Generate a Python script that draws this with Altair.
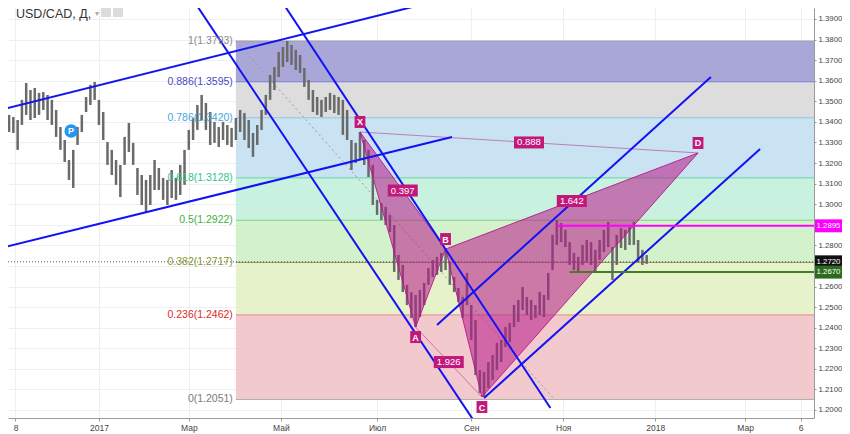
import altair as alt
import pandas as pd

FONT = "Liberation Sans"

# ---------------- price bars (each bar = 2 trading days; index 0 = 2 Jan 2017)
BAR_START = -42
BAR_STEP = 2
highs = [
    1.3434, 1.3424, 1.3409, 1.3507, 1.3589, 1.3555, 1.3565, 1.3541, 1.3545, 1.3531,
    1.3507, 1.3458, 1.3375, 1.3312, 1.3215, 1.3264, 1.3375, 1.3434, 1.3521, 1.3580,
    1.3594, 1.3507, 1.3448, 1.3302, 1.3264, 1.3215, 1.3191, 1.3327, 1.3395, 1.3298,
    1.3176, 1.3142, 1.3118, 1.3142, 1.3215, 1.3176, 1.3128, 1.3118, 1.3166, 1.3128,
    1.3191, 1.3264, 1.3361, 1.3419, 1.3482, 1.3531, 1.3492, 1.3448, 1.3400, 1.3375,
    1.3400, 1.3385, 1.3371, 1.3419, 1.3458, 1.3443, 1.3409, 1.3346, 1.3385, 1.3458,
    1.3531, 1.3628, 1.3667, 1.3740, 1.3764, 1.3793, 1.3774, 1.3750, 1.3725, 1.3662,
    1.3604, 1.3555, 1.3521, 1.3507, 1.3521, 1.3541, 1.3531, 1.3521, 1.3507, 1.3458,
    1.3312, 1.3298, 1.3351, 1.3312, 1.3264, 1.3191, 1.3021, 1.3006, 1.2987, 1.2948,
    1.2899, 1.2753, 1.2705, 1.2608, 1.2573, 1.2559, 1.2583, 1.2617, 1.2690, 1.2729,
    1.2744, 1.2763, 1.2782, 1.2719, 1.2646, 1.2593, 1.2549, 1.2666, 1.2510, 1.2437,
    1.2194, 1.2185, 1.2233, 1.2267, 1.2326, 1.2340, 1.2403, 1.2423, 1.2510, 1.2535,
    1.2598, 1.2549, 1.2535, 1.2510, 1.2573, 1.2559, 1.2666, 1.2851, 1.2923, 1.2909,
    1.2875, 1.2816, 1.2763, 1.2744, 1.2802, 1.2826, 1.2816, 1.2778, 1.2826, 1.2875,
    1.2914, 1.2792, 1.2851, 1.2885, 1.2875, 1.2889, 1.2914, 1.2826, 1.2778, 1.2753,
]
lows = [
    1.3351, 1.3346, 1.3264, 1.3385, 1.3434, 1.3409, 1.3419, 1.3434, 1.3458, 1.3409,
    1.3385, 1.3327, 1.3264, 1.3205, 1.3118, 1.3079, 1.3288, 1.3351, 1.3448, 1.3482,
    1.3507, 1.3385, 1.3312, 1.3191, 1.3142, 1.3094, 1.3035, 1.3191, 1.3254, 1.3191,
    1.3045, 1.2996, 1.2962, 1.2996, 1.3069, 1.3069, 1.3021, 1.2996, 1.3030, 1.3021,
    1.3045, 1.3094, 1.3264, 1.3312, 1.3361, 1.3409, 1.3361, 1.3288, 1.3298, 1.3278,
    1.3312, 1.3288, 1.3278, 1.3312, 1.3351, 1.3312, 1.3273, 1.3230, 1.3288, 1.3361,
    1.3434, 1.3507, 1.3555, 1.3618, 1.3667, 1.3691, 1.3677, 1.3652, 1.3638, 1.3570,
    1.3507, 1.3448, 1.3434, 1.3424, 1.3448, 1.3458, 1.3443, 1.3434, 1.3337, 1.3312,
    1.3166, 1.3200, 1.3215, 1.3191, 1.3132, 1.2996, 1.2948, 1.2923, 1.2899, 1.2865,
    1.2671, 1.2632, 1.2573, 1.2510, 1.2447, 1.2403, 1.2452, 1.2510, 1.2608, 1.2646,
    1.2656, 1.2671, 1.2680, 1.2608, 1.2573, 1.2525, 1.2447, 1.2510, 1.2340, 1.2170,
    1.2083, 1.2063, 1.2107, 1.2146, 1.2194, 1.2233, 1.2306, 1.2330, 1.2403, 1.2428,
    1.2486, 1.2462, 1.2437, 1.2447, 1.2462, 1.2452, 1.2535, 1.2680, 1.2802, 1.2816,
    1.2792, 1.2705, 1.2680, 1.2671, 1.2705, 1.2719, 1.2705, 1.2671, 1.2729, 1.2768,
    1.2792, 1.2632, 1.2705, 1.2787, 1.2778, 1.2802, 1.2802, 1.2719, 1.2705, 1.2710,
]

# ---------------- axes
X_MIN, X_MAX = -42.5, 334.2
Y_MIN, Y_MAX = 1.19611, 1.39534
x_tick_idx = [-39, 0, 42, 85, 130, 174, 217, 260, 302, 328]
x_tick_lab = ["8", "2017", "Мар", "Май", "Июл", "Сен", "Ноя", "2018", "Мар", "6"]
y_ticks = [1.20, 1.21, 1.22, 1.23, 1.24, 1.25, 1.26, 1.27, 1.28, 1.29,
           1.30, 1.31, 1.32, 1.33, 1.34, 1.35, 1.36, 1.37, 1.38, 1.39]
y_hidden = ["1.2900", "1.2700"]

# ---------------- Fibonacci retracement
fib_ratio_txt = ["1", "0.886", "0.786", "0.618", "0.5", "0.382", "0.236", "0"]
fib_prices = [1.3793, 1.3595, 1.3420, 1.3128, 1.2922, 1.2717, 1.2462, 1.2051]
fib_line_colors = ["#a0a0a0", "#7a78d2", "#8cc6e6", "#68d0a8", "#7cd67c", "#8f9a55", "#e88a8a", "#b0b0b0"]
fib_text_colors = ["#8a8a8a", "#4a48c8", "#48a6dc", "#34c488", "#44b044", "#7f9a30", "#dd2a2a", "#7a7a7a"]
fib_zone_colors = ["#a9a7d8", "#dddddd", "#c9e3f2", "#c9f1e0", "#d3f1ca", "#e6f2ca", "#f2c9cd"]
FIB_START = 64
FIB_ANCHOR_END = 213

# ---------------- harmonic XABCD pattern
pat_names = ["X", "A", "B", "C", "D"]
pat_idx = [122, 148, 162, 179, 280]
pat_price = [1.3351, 1.2403, 1.2782, 1.2063, 1.3249]
pat_label_dir = [-1, 1, -1, 1, -1]
ratio_text = ["0.397", "1.926", "1.642", "0.888"]
ratio_pairs = [(0, 2), (1, 3), (2, 4), (0, 4)]
PINK = "#b8168a"
PINK_BOX = "#c2187c"

# ---------------- trend lines (blue)
tl_i1 = [-46, -46, 44, 85, 158, 180]
tl_p1 = [1.3458, 1.2787, 1.3993, 1.3993, 1.2413, 1.2058]
tl_i2 = [151, 165, 175, 211, 286, 309]
tl_p2 = [1.3970, 1.3327, 1.1951, 1.2010, 1.3618, 1.3268]

# ---------------- horizontal levels
hl_price = [1.2895, 1.2670]
hl_start = [214, 220]
hl_color = ["#ff00ff", "#3f7f2a"]
last_price = 1.2720
tag_price = [1.2895, 1.2720, 1.2670]
tag_text = ["1.2895", "1.2720", "1.2670"]
tag_color = ["#ff00ff", "#111111", "#2e6b1e"]

p_marker_idx, p_marker_price = -13, 1.3356

# =====================================================================
PLOT_W, PLOT_H = 806, 410
xs = alt.Scale(domain=[X_MIN, X_MAX], nice=False, zero=False)
ys = alt.Scale(domain=[Y_MIN, Y_MAX], nice=False, zero=False)

x_label_expr = "".join(f"datum.value == {v} ? '{l}' : " for v, l in zip(x_tick_idx, x_tick_lab)) + "''"
y_label_expr = ("indexof(" + str(y_hidden) + ", format(datum.value, '.4f')) >= 0 ? '' : format(datum.value, '.4f')")

x_axis = alt.Axis(
    values=x_tick_idx, labelExpr=x_label_expr, title=None, grid=True, gridColor="#efefef",
    domainColor="#9a9a9a", tickColor="#9a9a9a", tickSize=3, labelFontSize=8.5,
    labelColor="#444444", labelPadding=2, labelFont=FONT, labelFlush=False, labelOverlap=False)
y_axis = alt.Axis(
    orient="right", values=y_ticks, labelExpr=y_label_expr, title=None, grid=True,
    gridColor="#efefef", domainColor="#9a9a9a", tickColor="#9a9a9a", tickSize=2,
    labelFontSize=7.8, labelColor="#444444", labelPadding=2, labelFont=FONT, labelOverlap=False,
    tickCount=20)


def X(f):
    return alt.X(f, type="quantitative", scale=xs, axis=x_axis, title=None)


def Y(f):
    return alt.Y(f, type="quantitative", scale=ys, axis=y_axis, title=None)


# zones
zones = pd.DataFrame({
    "x1": [FIB_START] * 7, "x2": [X_MAX] * 7,
    "top": fib_prices[:-1], "bot": fib_prices[1:], "col": fib_zone_colors,
})
zone_layer = alt.Chart(zones).mark_rect().encode(
    x=X("x1"), x2="x2", y=Y("top"), y2="bot", color=alt.Color("col:N", scale=None))

levels = pd.DataFrame({
    "x1": [FIB_START] * 8, "x2": [X_MAX] * 8, "p": fib_prices, "col": fib_line_colors,
    "lab": [f"{r}({p:.4f})" for r, p in zip(fib_ratio_txt, fib_prices)], "tc": fib_text_colors,
})
level_layer = alt.Chart(levels).mark_rule(strokeWidth=1).encode(
    x=X("x1"), x2="x2", y=Y("p"), color=alt.Color("col:N", scale=None))
level_text = alt.Chart(levels).mark_text(align="right", baseline="middle", dx=-3, fontSize=10.5, font=FONT).encode(
    x=X("x1"), y=Y("p"), text="lab", color=alt.Color("tc:N", scale=None))

fib_diag = pd.DataFrame({"i": [FIB_START, FIB_ANCHOR_END], "p": [fib_prices[0], fib_prices[-1]]})
fib_diag_layer = alt.Chart(fib_diag).mark_line(color="#9a9a9a", strokeWidth=1, strokeDash=[2, 3], clip=True).encode(
    x=X("i"), y=Y("p"))

# last price dotted line
lastdf = pd.DataFrame({"x1": [X_MIN], "x2": [X_MAX], "p": [last_price]})
last_layer = alt.Chart(lastdf).mark_rule(color="#555555", strokeWidth=1, strokeDash=[1, 2]).encode(
    x=X("x1"), x2="x2", y=Y("p"))

# bars
bars = pd.DataFrame({
    "i": [BAR_START + BAR_STEP * k for k in range(len(highs))], "hi": highs, "lo": lows})
bar_layer = alt.Chart(bars).mark_rule(color="#6a6a6a", strokeWidth=2.5).encode(
    x=X("i"), y=Y("lo"), y2="hi")

# harmonic triangles
tri_rows = []
for t, verts in enumerate([(0, 1, 2), (2, 3, 4)]):
    seq = list(verts) + [verts[0]]
    for o, v in enumerate(seq):
        tri_rows.append({"tri": t, "ord": o, "i": pat_idx[v], "p": pat_price[v]})
tri_df = pd.DataFrame(tri_rows)
tri_layer = alt.Chart(tri_df).mark_line(
    color=PINK, fill=PINK, fillOpacity=0.55, strokeWidth=1, strokeOpacity=0.9).encode(
    x=X("i"), y=Y("p"), detail="tri:N", order="ord:Q")

thin_rows = []
for n, (a, b) in enumerate([(1, 3), (0, 4)]):
    for v in (a, b):
        thin_rows.append({"seg": n, "i": pat_idx[v], "p": pat_price[v]})
thin_layer = alt.Chart(pd.DataFrame(thin_rows)).mark_line(
    color=PINK, strokeWidth=1, opacity=0.5).encode(x=X("i"), y=Y("p"), detail="seg:N")

# blue trend lines
tl_rows = []
for n in range(len(tl_i1)):
    tl_rows.append({"id": n, "i": tl_i1[n], "p": tl_p1[n]})
    tl_rows.append({"id": n, "i": tl_i2[n], "p": tl_p2[n]})
tl_layer = alt.Chart(pd.DataFrame(tl_rows)).mark_line(color="#1212f5", strokeWidth=2, clip=True).encode(
    x=X("i"), y=Y("p"), detail="id:N")

# horizontal levels
hl_df = pd.DataFrame({"x1": hl_start, "x2": [X_MAX] * 2, "p": hl_price, "col": hl_color})
hl_layer = alt.Chart(hl_df).mark_rule(strokeWidth=2).encode(
    x=X("x1"), x2="x2", y=Y("p"), color=alt.Color("col:N", scale=None))

# ratio labels
rat_df = pd.DataFrame({
    "i": [(pat_idx[a] + pat_idx[b]) / 2 for a, b in ratio_pairs],
    "p": [(pat_price[a] + pat_price[b]) / 2 for a, b in ratio_pairs],
    "t": ratio_text})
rat_box = alt.Chart(rat_df).mark_point(
    shape="M-1,-0.4H1V0.4H-1Z", size=900, filled=True, color=PINK_BOX, opacity=1).encode(
    x=X("i"), y=Y("p"))
rat_txt = alt.Chart(rat_df).mark_text(color="white", fontSize=9.5, font=FONT, baseline="middle").encode(
    x=X("i"), y=Y("p"), text="t")

# point letter labels
pts = pd.DataFrame({"n": pat_names, "i": pat_idx, "p": pat_price, "d": pat_label_dir})
letter_layers = []
for d, off in [(-1, -10), (1, 10)]:
    sub = pts[pts["d"] == d]
    letter_layers.append(alt.Chart(sub).mark_point(
        shape="M-0.45,-0.5H0.45V0.5H-0.45Z", size=576, filled=True, color=PINK_BOX, opacity=1,
        yOffset=off).encode(x=X("i"), y=Y("p")))
    letter_layers.append(alt.Chart(sub).mark_text(
        color="white", fontSize=9, font=FONT, fontWeight="bold", baseline="middle", yOffset=off + 0.5).encode(
        x=X("i"), y=Y("p"), text="n"))

# P marker
pdf = pd.DataFrame({"i": [p_marker_idx], "p": [p_marker_price], "t": ["P"]})
p_circ = alt.Chart(pdf).mark_point(shape="circle", size=180, filled=True, color="#2196f3", opacity=1).encode(
    x=X("i"), y=Y("p"))
p_txt = alt.Chart(pdf).mark_text(color="white", fontSize=9, fontWeight="bold", font=FONT, baseline="middle").encode(
    x=X("i"), y=Y("p"), text="t")

# price tags on the right axis
tag_df = pd.DataFrame({"p": tag_price, "t": tag_text, "c": tag_color})
tag_box = alt.Chart(tag_df).mark_point(
    shape="M-1,-0.48H1V0.48H-1Z", size=729, filled=True, opacity=1).encode(
    x=alt.value(PLOT_W + 14.5), y=Y("p"), color=alt.Color("c:N", scale=None))
tag_txt = alt.Chart(tag_df).mark_text(color="white", fontSize=7.8, font=FONT, baseline="middle").encode(
    x=alt.value(PLOT_W + 14.5), y=Y("p"), text="t")

# header
head = alt.Chart(pd.DataFrame({"t": ["USD/CAD, Д,"]})).mark_text(
    align="left", baseline="middle", fontSize=12.5, font=FONT, color="#333333").encode(
    x=alt.value(8), y=alt.value(5.5), text="t")
caret = alt.Chart(pd.DataFrame({"t": ["▾"]})).mark_text(
    align="left", baseline="middle", fontSize=8, font="DejaVu Sans", color="#aaaaaa").encode(
    x=alt.value(87), y=alt.value(5.5), text="t")
icon1 = alt.Chart(pd.DataFrame({"k": [1]})).mark_point(
    shape="square", size=100, filled=True, color="#dcdcdc", opacity=1).encode(
    x=alt.value(98), y=alt.value(4))
icon2 = alt.Chart(pd.DataFrame({"k": [1]})).mark_point(
    shape="square", size=100, filled=True, color="#dcdcdc", opacity=1).encode(
    x=alt.value(110), y=alt.value(4))

chart = alt.layer(
    zone_layer, level_layer, fib_diag_layer, last_layer, bar_layer,
    tri_layer, thin_layer, tl_layer, hl_layer, level_text,
    rat_box, rat_txt, *letter_layers, p_circ, p_txt, tag_box, tag_txt, head, caret, icon1, icon2,
).properties(
    width=PLOT_W, height=PLOT_H,
    autosize=alt.AutoSizeParams(type="none"),
    padding={"left": 0, "top": 0, "right": 28, "bottom": 16},
    background="white",
).configure_view(stroke=None).configure_axis(labelFont=FONT)

chart.save("out.html", embed_options={"renderer": "svg", "actions": False})
